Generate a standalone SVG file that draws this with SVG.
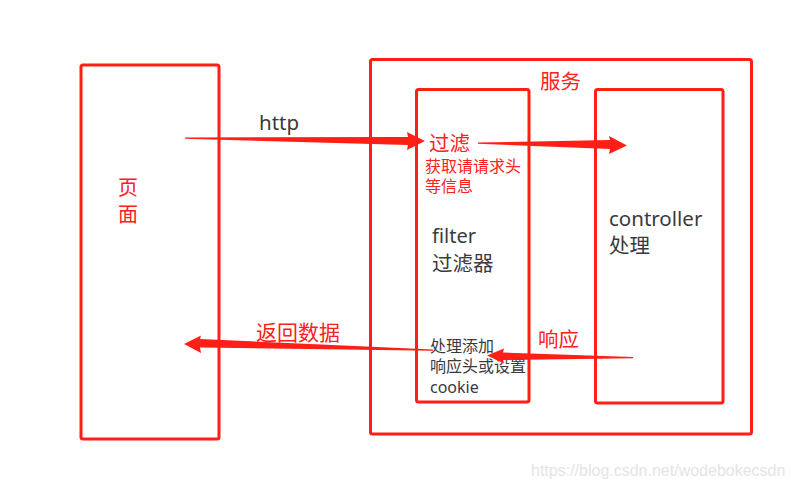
<svg xmlns="http://www.w3.org/2000/svg" width="791" height="488" viewBox="0 0 791 488">
<style>
.box{fill:none;stroke:#ff1f17;stroke-width:3;stroke-linejoin:round}
.arr{fill:#ff1f17;stroke:none}
.red{fill:#ff2020;font-family:"Noto Sans","Noto Sans CJK SC",sans-serif}
.dark{fill:#3a3a3a;font-family:"Noto Sans","Noto Sans CJK SC",sans-serif}
.wm{fill:#e4e4e4;font-family:"Liberation Sans",Arial,sans-serif;font-size:16px}
</style>
<rect width="791" height="488" fill="#fff"/>
<g id="page">
<rect class="box" x="81" y="65" width="138" height="374" rx="2"/>
<text class="red" font-size="20" x="118" y="195">页</text>
<text class="red" font-size="20" x="118" y="222">面</text>
</g>
<g id="service">
<rect class="box" x="370.5" y="59.5" width="381" height="374.5" rx="2"/>
<text class="red" font-size="20.5" x="540" y="89">服务</text>
</g>
<g id="filter">
<rect class="box" x="416.5" y="89.5" width="112.5" height="312.5" rx="2"/>
<text class="red" font-size="20.5" x="429" y="151">过滤</text>
<text class="red" font-size="16" x="425" y="172">获取请请求头</text>
<text class="red" font-size="16" x="425" y="192">等信息</text>
<text class="dark" font-size="20" x="432" y="243">filter</text>
<text class="dark" font-size="20.5" x="432" y="271">过滤器</text>
<text class="dark" font-size="16" x="430" y="352">处理添加</text>
<text class="dark" font-size="16" x="430" y="372">响应头或设置</text>
<text class="dark" font-size="16" x="430" y="393">cookie</text>
</g>
<g id="controller">
<rect class="box" x="595.5" y="89.5" width="127.5" height="313.5" rx="2"/>
<text class="dark" font-size="20.5" x="609" y="226">controller</text>
<text class="dark" font-size="20.5" x="609" y="253">处理</text>
</g>
<g id="connectors">
<path class="arr" d="M185,137.5 L408,137 L407,132 L425,141 L407,150 L408,145 L185,138.7 Z"/>
<text class="dark" font-size="20.5" x="259" y="130">http</text>
<path class="arr" d="M478,142.5 L610,140 L609,136 L627,145.5 L609,154 L610,149 L478,143.8 Z"/>
<path class="arr" d="M633,357 L503,352.5 L504,348.5 L487,355.5 L504,363.5 L503,360 L633,358.3 Z"/>
<text class="red" font-size="20.5" x="538" y="347">响应</text>
<path class="arr" d="M433,349.5 L200,339 L201,335.5 L184,344 L201,353 L200,347.5 L433,350.8 Z"/>
<text class="red" font-size="21" x="256" y="340">返回数据</text>
</g>
<text class="wm" x="531" y="476">https://blog.csdn.net/wodebokecsdn</text>
</svg>
